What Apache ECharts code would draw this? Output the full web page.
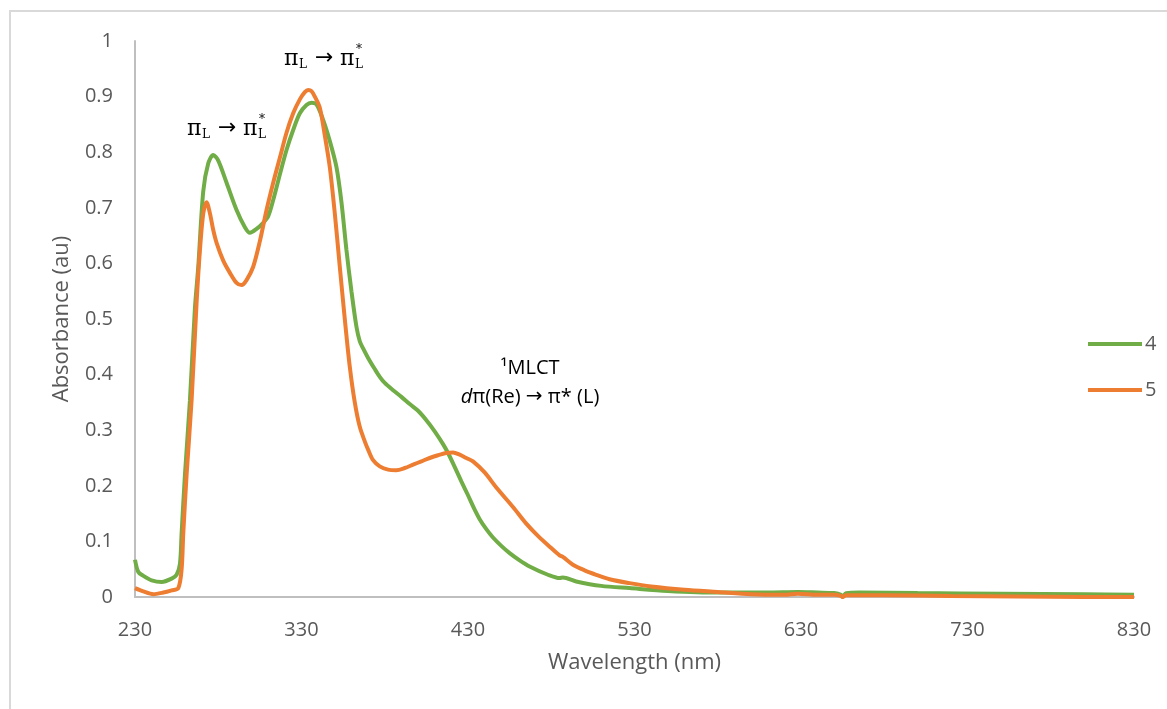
<!DOCTYPE html>
<html>
<head>
<meta charset="utf-8">
<script src="https://cdn.jsdelivr.net/npm/echarts@6/dist/echarts.min.js"></script>
<style>
html,body{margin:0;padding:0;background:#fff;}
#chart{width:1167px;height:709px;}
</style>
</head>
<body>
<div id="chart"></div>
<script>
// ---- data ----
const seriesNames = ['4', '5'];
const xTickLabels = ['230', '330', '430', '530', '630', '730', '830'];
const yTickLabels = ['0', '0.1', '0.2', '0.3', '0.4', '0.5', '0.6', '0.7', '0.8', '0.9', '1'];

const wl4 = [230,232,235,240,246,252,255,257,258,260,263,266,268,271,274,277,280,285,291,296,299,303,307,310,313,317,321,325,329,333,336,339,343,347,351,354,357,360,363,365,367,370,374,377,380,385,390,395,400,405,410,415,418,422,426,430,434,437,441,445,450,455,461,467,478,485,487,495,510,527,550,580,610,628,640,650,654,655,657,665,700,750,800,830];
const ab4 = [0.067,0.045,0.038,0.030,0.027,0.033,0.040,0.060,0.115,0.22,0.354,0.52,0.594,0.73,0.78,0.795,0.785,0.745,0.696,0.665,0.655,0.662,0.673,0.685,0.714,0.76,0.804,0.84,0.87,0.885,0.889,0.886,0.858,0.82,0.773,0.71,0.624,0.55,0.486,0.46,0.447,0.43,0.41,0.396,0.385,0.372,0.36,0.347,0.335,0.318,0.298,0.275,0.259,0.234,0.208,0.183,0.157,0.14,0.122,0.107,0.092,0.079,0.066,0.055,0.04,0.034,0.035,0.028,0.02,0.016,0.011,0.008,0.008,0.009,0.008,0.007,0.004,0.0,0.007,0.008,0.007,0.006,0.005,0.004];

const wl5 = [230,235,241,247,252,256,258,259,261,264,267,269,271,273,275,277,279,283,287,291,294,297,301,305,309,313,317,321,325,329,332,334,336,338,341,344,347,350,353,356,359,362,365,368,370,373,377,382,387,392,397,402,407,412,417,421,425,429,433,440,447,457,465,472,480,485,487,493,500,507,515,527,540,560,580,600,620,628,640,650,654,655,657,680,720,760,800,830];
const ab5 = [0.016,0.01,0.005,0.008,0.012,0.016,0.05,0.115,0.22,0.354,0.53,0.624,0.69,0.71,0.69,0.66,0.637,0.605,0.583,0.565,0.561,0.57,0.594,0.64,0.696,0.745,0.79,0.835,0.87,0.895,0.908,0.912,0.91,0.9,0.88,0.83,0.773,0.69,0.594,0.5,0.414,0.35,0.306,0.28,0.265,0.246,0.235,0.229,0.228,0.232,0.238,0.244,0.25,0.255,0.259,0.26,0.256,0.25,0.244,0.224,0.197,0.162,0.132,0.11,0.088,0.075,0.072,0.058,0.048,0.04,0.032,0.025,0.019,0.013,0.009,0.005,0.004,0.006,0.004,0.004,0.002,0.0,0.003,0.003,0.002,0.001,0.0,0.0];

const xStart = 230; // first tick of wavelength axis

const chart = echarts.init(document.getElementById('chart'));
const FONT = 'Open Sans';
const GRAY = '#595959';
const toPairs = (xs, ys) => xs.map((x, i) => [x - xStart, ys[i]]);

function piAnno(x, y) {
  const serif = 'DejaVu Serif';
  return {
    type: 'group', x: x, y: y, silent: true,
    children: [
      {type:'text', x:0, y:0, style:{text:'π', font:'22px "'+serif+'"', fill:'#000', verticalAlign:'middle'}},
      {type:'text', x:15, y:6, style:{text:'L', font:'12px "'+serif+'"', fill:'#000', verticalAlign:'middle'}},
      {type:'text', x:31, y:-1, style:{text:'→', font:'22px "DejaVu Sans"', fill:'#000', verticalAlign:'middle'}},
      {type:'text', x:56, y:0, style:{text:'π', font:'22px "'+serif+'"', fill:'#000', verticalAlign:'middle'}},
      {type:'text', x:72, y:-9, style:{text:'*', font:'12px "'+serif+'"', fill:'#000', verticalAlign:'middle'}},
      {type:'text', x:71, y:6, style:{text:'L', font:'12px "'+serif+'"', fill:'#000', verticalAlign:'middle'}}
    ]
  };
}

chart.setOption({
  animation: false,
  backgroundColor: '#fff',
  grid: {left: 135, right: 33, top: 41, bottom: 112},
  legend: {
    orient: 'vertical', left: 1083, top: 329, itemGap: 26,
    itemWidth: 54, itemHeight: 4, icon: 'rect',
    textStyle: {fontFamily: FONT, fontSize: 20, color: GRAY, padding: [0,0,0,-2]},
    data: seriesNames
  },
  xAxis: {
    type: 'value', min: 0, max: 600, interval: 100,
    name: 'Wavelength (nm)', nameLocation: 'middle', nameGap: 55,
    nameTextStyle: {fontFamily: FONT, fontSize: 22, color: GRAY},
    axisLine: {show: true, lineStyle: {color: '#BFBFBF', width: 2}},
    axisTick: {show: false},
    splitLine: {show: false},
    axisLabel: {margin: 23, fontFamily: FONT, fontSize: 20, color: GRAY,
      formatter: (v) => xTickLabels[Math.round(v / 100)]}
  },
  yAxis: {
    type: 'value', min: 0, max: 1, interval: 0.1,
    name: 'Absorbance (au)', nameLocation: 'middle', nameGap: 62,
    nameTextStyle: {fontFamily: FONT, fontSize: 22, color: GRAY},
    axisLine: {show: true, lineStyle: {color: '#BFBFBF', width: 2}},
    axisTick: {show: false},
    splitLine: {show: false},
    axisLabel: {margin: 22, fontFamily: FONT, fontSize: 20, color: GRAY,
      formatter: (v) => yTickLabels[Math.round(v * 10)]}
  },
  series: [
    {name: seriesNames[0], type: 'line', data: toPairs(wl4, ab4), showSymbol: false, smooth: 0.3,
     lineStyle: {color: '#70AD47', width: 4}, itemStyle: {color: '#70AD47'}},
    {name: seriesNames[1], type: 'line', data: toPairs(wl5, ab5), showSymbol: false, smooth: 0.3,
     lineStyle: {color: '#ED7D31', width: 4}, itemStyle: {color: '#ED7D31'}}
  ],
  graphic: [
    {type: 'rect', silent: true, shape: {x: 10, y: 11, width: 1170, height: 710},
     style: {fill: 'none', stroke: '#D9D9D9', lineWidth: 2}},
    piAnno(187, 129),
    piAnno(284, 59),
    {type: 'text', silent: true, x: 530, y: 368,
     style: {text: '¹MLCT', font: '20px "Open Sans"', fill: '#000', align: 'center', verticalAlign: 'middle'}},
    {type: 'text', silent: true, x: 530, y: 397,
     style: {text: '{i|d}π(Re) {a|→} π* (L)', font: '20px "Open Sans"', fill: '#000', align: 'center', verticalAlign: 'middle',
       rich: {i: {fontStyle: 'italic', fontFamily: 'Open Sans', fontSize: 20, fill: '#000'},
              a: {fontFamily: 'DejaVu Sans', fontSize: 20, fill: '#000'}}}}
  ]
});
</script>
</body>
</html>
